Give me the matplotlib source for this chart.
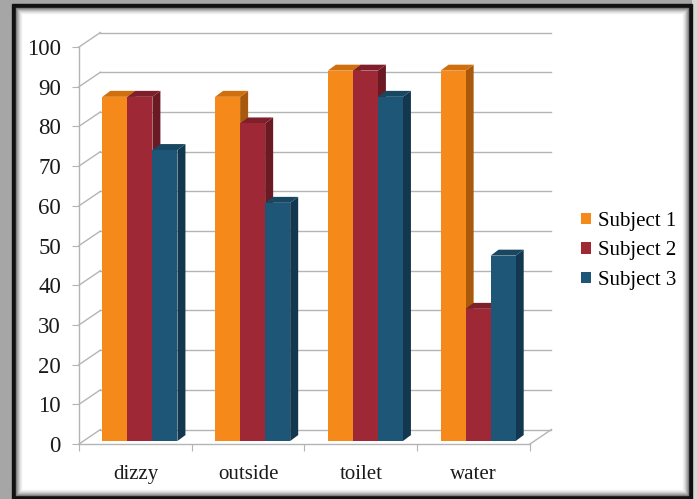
import matplotlib.pyplot as plt
from matplotlib.patches import Polygon, Rectangle, Patch

categories = ['dizzy', 'outside', 'toilet', 'water']
subject1 = [86.7, 86.7, 93.3, 93.3]
subject2 = [86.7, 80.0, 93.3, 33.3]
subject3 = [73.3, 60.0, 86.7, 46.7]
series_names = ['Subject 1', 'Subject 2', 'Subject 3']
yticks = list(range(0, 101, 10))

# face colours: front, top, side
palette = [
    ('#F5891A', '#CF6F0E', '#A9590B'),
    ('#9F2837', '#7E1F2B', '#6B1A24'),
    ('#1E5677', '#184762', '#12374E'),
]

W, H = 697, 499
fig = plt.figure(figsize=(W / 100, H / 100), dpi=100)
fig.patch.set_facecolor('white')
plt.rcParams['font.family'] = ['Liberation Serif', 'DejaVu Serif']


def px(x, y):
    return x / W, 1 - y / H


def frame_rect(x0, y0, x1, y1, color, lw=0, fill=True, ec=None):
    (fx0, fy1), (fx1, fy0) = px(x0, y0), px(x1, y1)
    fig.patches.append(Rectangle((fx0, fy0), fx1 - fx0, fy1 - fy0,
                                 transform=fig.transFigure, fill=fill,
                                 facecolor=color, edgecolor=ec or color,
                                 linewidth=lw, zorder=0))


# outer shadow + black frame + inner shading
frame_rect(0, 0, 12, H, '#a6a6a6')
frame_rect(0, 0, W, 4, '#a6a6a6')
frame_rect(692, 0, W, H, '#d8d8d8')
for i, g in enumerate(['#111111', '#111111', '#111111', '#111111',
                       '#7a7a7a', '#9a9a9a', '#b4b4b4', '#cccccc',
                       '#e0e0e0', '#efefef']):
    frame_rect(12 + i, 4 + i, 692 - i, 499 - i, 'none', lw=1.0, fill=False, ec=g)

# plot area in pixels: front axis x 79..530, y 444 (0) .. 47 (100)
l, b = px(79, 444)
r, t = px(530, 47)
ax = fig.add_axes([l, b, r - l, t - b])
ax.set_xlim(0, 4)
ax.set_ylim(0, 100)
ax.patch.set_visible(False)

grid_c = '#b4b4b4'
wdx, wdy = 0.19, 3.65      # wall depth in data units
bdx, bdy = 0.071, 1.5      # bar depth
ox, oy = 0.04, 0.75        # bar front offset into the floor
bw = 0.222
gap = (1 - 3 * bw) / 2

# walls and gridlines
for v in yticks:
    ax.plot([0, wdx], [v, v + wdy], color=grid_c, lw=1.0, clip_on=False, zorder=1)
    ax.plot([wdx, 4 + wdx], [v + wdy, v + wdy], color=grid_c, lw=1.0,
            clip_on=False, zorder=1)
ax.plot([4, 4 + wdx], [0, wdy], color=grid_c, lw=1.0, clip_on=False, zorder=1)

# 3-D style bars
data = [subject1, subject2, subject3]
for ci in range(len(categories)):
    for si, vals in enumerate(data):
        h = vals[ci]
        x0 = ci + gap + si * bw + ox
        y0 = oy
        front, top, side = palette[si]
        ax.add_patch(Polygon([(x0 + bw, y0), (x0 + bw + bdx, y0 + bdy),
                              (x0 + bw + bdx, y0 + h + bdy), (x0 + bw, y0 + h)],
                             closed=True, facecolor=side, edgecolor='none',
                             clip_on=False, zorder=2))
        ax.add_patch(Polygon([(x0, y0 + h), (x0 + bw, y0 + h),
                              (x0 + bw + bdx, y0 + h + bdy), (x0 + bdx, y0 + h + bdy)],
                             closed=True, facecolor=top, edgecolor='none',
                             clip_on=False, zorder=2))
        ax.add_patch(Rectangle((x0, y0), bw, h, facecolor=front,
                               edgecolor='none', clip_on=False, zorder=2))

for s in ['top', 'right']:
    ax.spines[s].set_visible(False)
for s in ['left', 'bottom']:
    ax.spines[s].set_color(grid_c)
    ax.spines[s].set_linewidth(1.0)

ax.set_yticks(yticks)
ax.set_xticks([0, 1, 2, 3, 4])
ax.set_xticklabels([])
ax.set_xticks([0.5, 1.5, 2.5, 3.5], minor=True)
ax.set_xticklabels(categories, minor=True)
ax.tick_params(axis='x', which='minor', length=0, pad=15, labelsize=15,
               labelcolor='#1a1a1a')
ax.tick_params(axis='x', which='major', length=5, color=grid_c)
ax.tick_params(axis='y', length=5, color=grid_c, labelsize=16.5,
               labelcolor='#1a1a1a', pad=8)

handles = [Patch(facecolor=p[0], edgecolor='none') for p in palette]
fig.legend(handles, series_names, loc='center left',
           bbox_to_anchor=px(571, 251), frameon=False, fontsize=15,
           handlelength=0.45, handleheight=0.45, handletextpad=0.35,
           labelspacing=0.5, borderpad=0)

fig.savefig('out.png', dpi=100)
